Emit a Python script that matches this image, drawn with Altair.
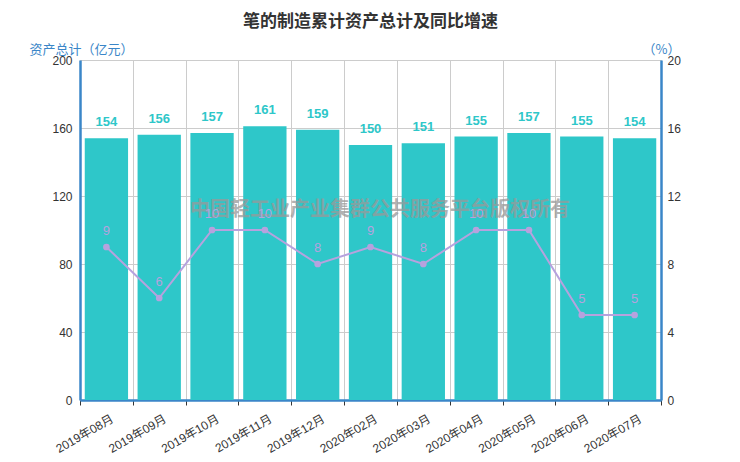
import altair as alt
import pandas as pd

months = ["2019年08月", "2019年09月", "2019年10月", "2019年11月", "2019年12月",
          "2020年02月", "2020年03月", "2020年04月", "2020年05月", "2020年06月", "2020年07月"]
assets = [154, 156, 157, 161, 159, 150, 151, 155, 157, 155, 154]
growth = [9, 6, 10, 10, 8, 9, 8, 10, 10, 5, 5]

title_text = "笔的制造累计资产总计及同比增速"
left_title = "资产总计（亿元）"
right_title = "（%）"
watermark_text = "中国轻工业产业集群公共服务平台版权所有"

BAR = "#2ec7c9"
LINE = "#b6a2de"
AXIS = "#3a86c8"
GRID = "#cccccc"
FONT = "Liberation Sans, Noto Sans CJK SC"
CJK = "Noto Sans CJK SC"

df = pd.DataFrame({"month": months, "assets": assets, "growth": growth})

x_enc = alt.X(
    "month:N", sort=months,
    scale=alt.Scale(paddingInner=0, paddingOuter=0),
    axis=alt.Axis(
        title=None, tickBand="extent", grid=True, gridColor=GRID,
        domainColor=AXIS, domainWidth=2.5, tickColor="#333", tickSize=5,
        labelAngle=330, labelAlign="right", labelBaseline="top", labelPadding=8,
        labelOffset=3, labelFontSize=12, labelColor="#333", labelFont=FONT,
    ),
)

y_left = alt.Y(
    "assets:Q", scale=alt.Scale(domain=[0, 200], nice=False),
    axis=alt.Axis(
        orient="left", values=[0, 40, 80, 120, 160, 200], grid=True, gridColor=GRID,
        domainColor=AXIS, domainWidth=2.5, ticks=False, labelPadding=8,
        labelFontSize=12, labelColor="#333", labelFont=FONT,
        title=left_title, titleAngle=0, titleX=1, titleY=-11, titleAlign="center",
        titleBaseline="middle", titleColor=AXIS, titleFontWeight="normal",
        titleFontSize=13, titleFont=CJK,
    ),
)

y_right = alt.Y(
    "growth:Q", scale=alt.Scale(domain=[0, 20], nice=False),
    axis=alt.Axis(
        orient="right", values=[0, 4, 8, 12, 16, 20], grid=False,
        domainColor=AXIS, domainWidth=2.5, ticks=False, labelPadding=6,
        labelFontSize=12, labelColor="#333", labelFont=FONT,
        title=right_title, titleAngle=0, titleX=0, titleY=-11, titleAlign="center",
        titleBaseline="middle", titleColor=AXIS, titleFontWeight="normal",
        titleFontSize=13, titleFont=CJK,
    ),
)

base = alt.Chart(df).encode(x=x_enc)

bars = base.mark_bar(color=BAR, width=alt.RelativeBandSize(0.82)).encode(y=y_left)
bar_labels = base.mark_text(
    color=BAR, fontSize=13, fontWeight="bold", baseline="bottom", dy=-9, font=FONT
).encode(y=alt.Y("assets:Q"), text="assets:Q")

line = base.mark_line(
    color=LINE, strokeWidth=2,
    point=alt.OverlayMarkDef(color=LINE, size=45, filled=True, opacity=1),
).encode(y=y_right)
line_labels = base.mark_text(
    color=LINE, fontSize=13, baseline="bottom", dy=-9, font=FONT
).encode(y=alt.Y("growth:Q"), text="growth:Q")

watermark = alt.Chart(pd.DataFrame({"t": [watermark_text]})).mark_text(
    color="#999999", opacity=0.75, fontSize=20, fontWeight="bold", font=CJK,
    align="center", baseline="middle",
).encode(x=alt.value(300), y=alt.value(150), text="t:N")

chart = alt.layer(
    alt.layer(bars, bar_labels),
    watermark,
    alt.layer(line, line_labels),
).resolve_scale(y="independent").properties(
    width=581, height=340,
    autosize=alt.AutoSizeParams(type="none"),
    padding={"left": 72, "top": 52, "right": 70, "bottom": 60},
    title=alt.Title(title_text, fontSize=17, fontWeight="bold", color="#333",
                    font=CJK, anchor="middle", offset=12),
).configure_view(stroke=None).configure(background="white")

chart.save("out.html", embed_options={"renderer": "svg", "actions": False})
